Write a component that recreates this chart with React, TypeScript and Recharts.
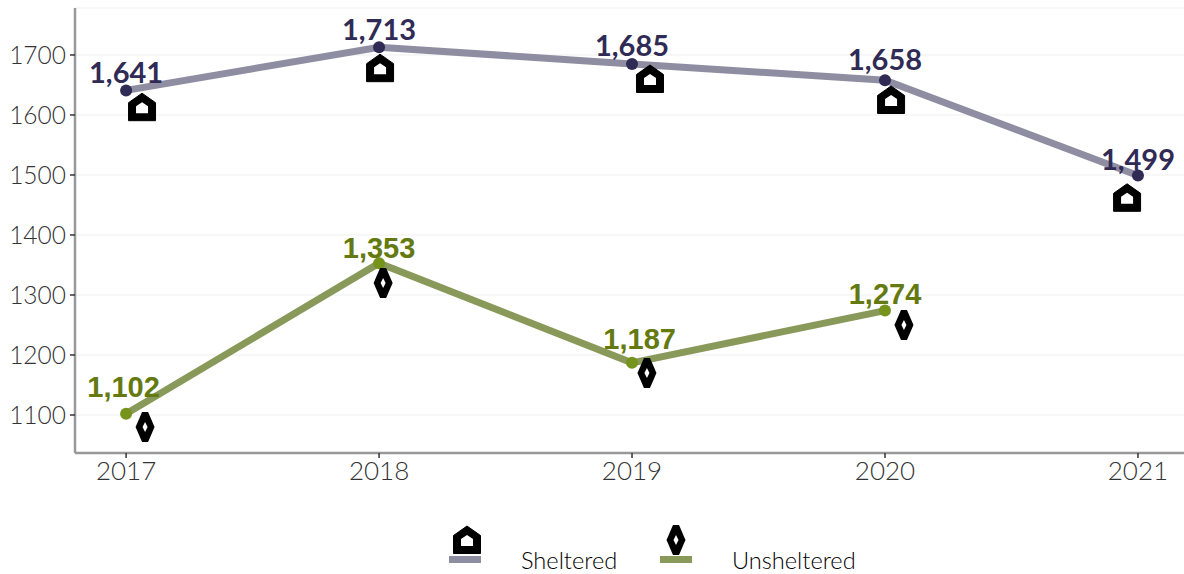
import React from 'react';
import { ComposedChart, Line, XAxis, YAxis, CartesianGrid, LabelList, Legend } from 'recharts';

const years = [2017, 2018, 2019, 2020, 2021];
const shelteredValues = [1641, 1713, 1685, 1658, 1499];
const unshelteredValues = [1102, 1353, 1187, 1274, null];
const yTicks = [1100, 1200, 1300, 1400, 1500, 1600, 1700];

// labels and icons are nudged off the points in the original, so they have their own positions
const shelteredLabelYears = [2017, 2018, 2019, 2020, 2021];
const shelteredLabelLevels = [1670, 1742, 1715, 1692, 1525];
const unshelteredLabelYears = [2016.99, 2018, 2019.03, 2020, 2021];
const unshelteredLabelLevels = [1148, 1378, 1228, 1303];
const shelteredIconYears = [2017.063, 2018.004, 2019.071, 2020.024, 2020.957];
const shelteredIconLevels = [1613, 1678, 1660, 1625, 1462];
const unshelteredIconYears = [2017.075, 2018.016, 2019.059, 2020.075];
const unshelteredIconLevels = [1080, 1320, 1170, 1250];

const SHELTERED = '#2f2b55';
const SHELTERED_LINE = '#8f8da2';
const UNSHELTERED = '#76931c';
const UNSHELTERED_LABEL = '#647a10';
const UNSHELTERED_LINE = '#88995a';
const LABEL_FONT = 'Lato, sans-serif';
const AXIS_FONT = 'Lato, sans-serif';

const chartData = years.map((year, i) => ({
  year,
  sheltered: shelteredValues[i],
  unsheltered: unshelteredValues[i],
}));
const shelteredLabels = shelteredValues.map((v, i) => ({
  year: shelteredLabelYears[i],
  level: shelteredLabelLevels[i],
  text: v.toLocaleString('en-US'),
}));
const unshelteredLabels = unshelteredLabelLevels.map((level, i) => ({
  year: unshelteredLabelYears[i],
  level,
  text: (unshelteredValues[i] as number).toLocaleString('en-US'),
}));
const shelteredIcons = shelteredIconYears.map((year, i) => ({ year, level: shelteredIconLevels[i] }));
const unshelteredIcons = unshelteredIconYears.map((year, i) => ({ year, level: unshelteredIconLevels[i] }));

const House = ({ cx, cy }: { cx: number; cy: number }) => (
  <g transform={`translate(${cx},${cy})`}>
    <path d="M-13.5,13.5 L-13.5,-4.5 L0,-14 L13.5,-4.5 L13.5,13.5 Z" fill="#000" stroke="#000" strokeWidth={1} strokeLinejoin="round" />
    <path d="M-6,6 L-6,-1 L0,-5 L6,-1 L6,6 Z" fill="#fff" />
  </g>
);

const Diamond = ({ cx, cy }: { cx: number; cy: number }) => (
  <g transform={`translate(${cx},${cy})`}>
    <path d="M-9.5,0 L-3,-15 L3,-15 L9.5,0 L3,15 L-3,15 Z" fill="#000" />
    <path d="M-2.5,0 L0,-5 L2.5,0 L0,5 Z" fill="#fff" />
  </g>
);

const LegendBox = () => (
  <div style={{ position: 'relative', width: 1184, height: 60, fontFamily: AXIS_FONT, fontSize: 23.6, fontWeight: 300, color: '#000' }}>
    <svg width={1184} height={60} style={{ position: 'absolute', left: 0, top: 0 }}>
      <House cx={467} cy={26} />
      <rect x={449} y={42} width={32} height={7} fill={SHELTERED_LINE} />
      <Diamond cx={676} cy={26} />
      <rect x={660} y={42} width={32} height={7} fill={UNSHELTERED_LINE} />
    </svg>
    <span style={{ position: 'absolute', left: 521, top: 32 }}>Sheltered</span>
    <span style={{ position: 'absolute', left: 732, top: 32 }}>Unsheltered</span>
  </div>
);

export default function App() {
  return (
    <div style={{ position: 'absolute', left: 0, top: 0, width: 1184, height: 574, background: '#fff' }}>
      <ComposedChart width={1184} height={574} data={chartData} margin={{ top: 8, right: 0, bottom: 21, left: 0 }}>
        <CartesianGrid horizontal vertical={false} stroke="#efefef" />
        <XAxis
          dataKey="year"
          type="number"
          domain={[2016.798, 2021.182]}
          ticks={years}
          allowDataOverflow
          tickFormatter={(v) => String(v)}
          stroke="#999"
          strokeWidth={2.5}
          tick={{ fill: '#333', fontSize: 26, fontFamily: AXIS_FONT, fontWeight: 300 }}
          tickLine={{ stroke: '#333', strokeWidth: 1.5 }}
          tickSize={5}
          tickMargin={4}
          height={40}
        />
        <YAxis
          type="number"
          domain={[1036.7, 1778.3]}
          ticks={yTicks}
          allowDataOverflow
          width={75}
          stroke="#999"
          strokeWidth={2.5}
          tick={{ fill: '#333', fontSize: 24.5, fontFamily: AXIS_FONT, fontWeight: 300 }}
          tickLine={{ stroke: '#333', strokeWidth: 1.5 }}
          tickSize={5}
          tickMargin={4}
        />
        <Line
          dataKey="sheltered"
          stroke={SHELTERED_LINE}
          strokeWidth={7}
          dot={{ r: 6, fill: SHELTERED, stroke: SHELTERED, strokeWidth: 0, fillOpacity: 1 }}
          isAnimationActive={false}
        />
        <Line
          dataKey="unsheltered"
          stroke={UNSHELTERED_LINE}
          strokeWidth={7}
          dot={{ r: 6, fill: UNSHELTERED, stroke: UNSHELTERED, strokeWidth: 0, fillOpacity: 1 }}
          isAnimationActive={false}
        />
        <Line data={shelteredLabels} dataKey="level" stroke="none" dot={false} legendType="none" isAnimationActive={false}>
          <LabelList dataKey="text" position="center" fill={SHELTERED} fontSize={29} fontWeight={700} fontFamily={LABEL_FONT} />
        </Line>
        <Line data={unshelteredLabels} dataKey="level" stroke="none" dot={false} legendType="none" isAnimationActive={false}>
          <LabelList dataKey="text" position="center" fill={UNSHELTERED_LABEL} fontSize={29} fontWeight={700} fontFamily='"Liberation Sans", sans-serif' />
        </Line>
        <Line
          data={shelteredIcons}
          dataKey="level"
          stroke="none"
          dot={(p: any) => <House key={p.index} cx={p.cx} cy={p.cy} />}
          legendType="none"
          isAnimationActive={false}
        />
        <Line
          data={unshelteredIcons}
          dataKey="level"
          stroke="none"
          dot={(p: any) => <Diamond key={p.index} cx={p.cx} cy={p.cy} />}
          legendType="none"
          isAnimationActive={false}
        />
        <Legend content={() => <LegendBox />} wrapperStyle={{ left: 0, top: 514, width: 1184, height: 60 }} />
      </ComposedChart>
    </div>
  );
}
